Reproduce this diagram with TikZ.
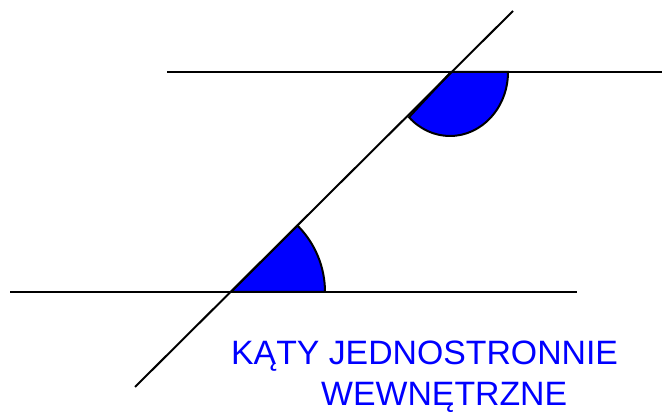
\documentclass[tikz,border=0pt]{standalone}
\usepackage{fontspec}
\newfontfamily\captionfont{Liberation Sans}
\definecolor{anglecolor}{RGB}{0,0,255}

\begin{document}
\begin{tikzpicture}[
  x=1pt, y=1pt,
  line/.style={line width=2pt},
  angle/.style={draw,line width=2pt,fill=anglecolor},
  caption/.style={text=anglecolor,inner sep=0pt,anchor=base west,
    font=\captionfont\fontsize{33.8}{33.8}\selectfont}
]
  \useasboundingbox (0,0) rectangle (662,412);
  % two parallel lines and the transversal
  \coordinate (P1) at (167,340);
  \coordinate (P2) at (662,340);
  \coordinate (Q1) at (10,120);
  \coordinate (Q2) at (577,120);
  \coordinate (T1) at (135,25);
  \coordinate (T2) at (513,401);
  \coordinate (A) at (451,340);
  \coordinate (B) at (231,120);
  % the two angles
  \draw[angle] (A) -- ++(57,0) arc[start angle=0,end angle=-135,x radius=58,y radius=64] -- cycle;
  \draw[angle] (B) -- ++(94,0) arc[start angle=0,end angle=45,radius=94] -- cycle;
  \draw[line] (P1) -- (P2);
  \draw[line] (Q1) -- (Q2);
  \draw[line] (T1) -- (T2);
  % caption
  \node[caption] (cap1) at (231,47) {KĄTY JEDNOSTRONNIE};
  \node[caption] (cap2) at (321,6) {WEWNĘTRZNE};
\end{tikzpicture}
\end{document}
